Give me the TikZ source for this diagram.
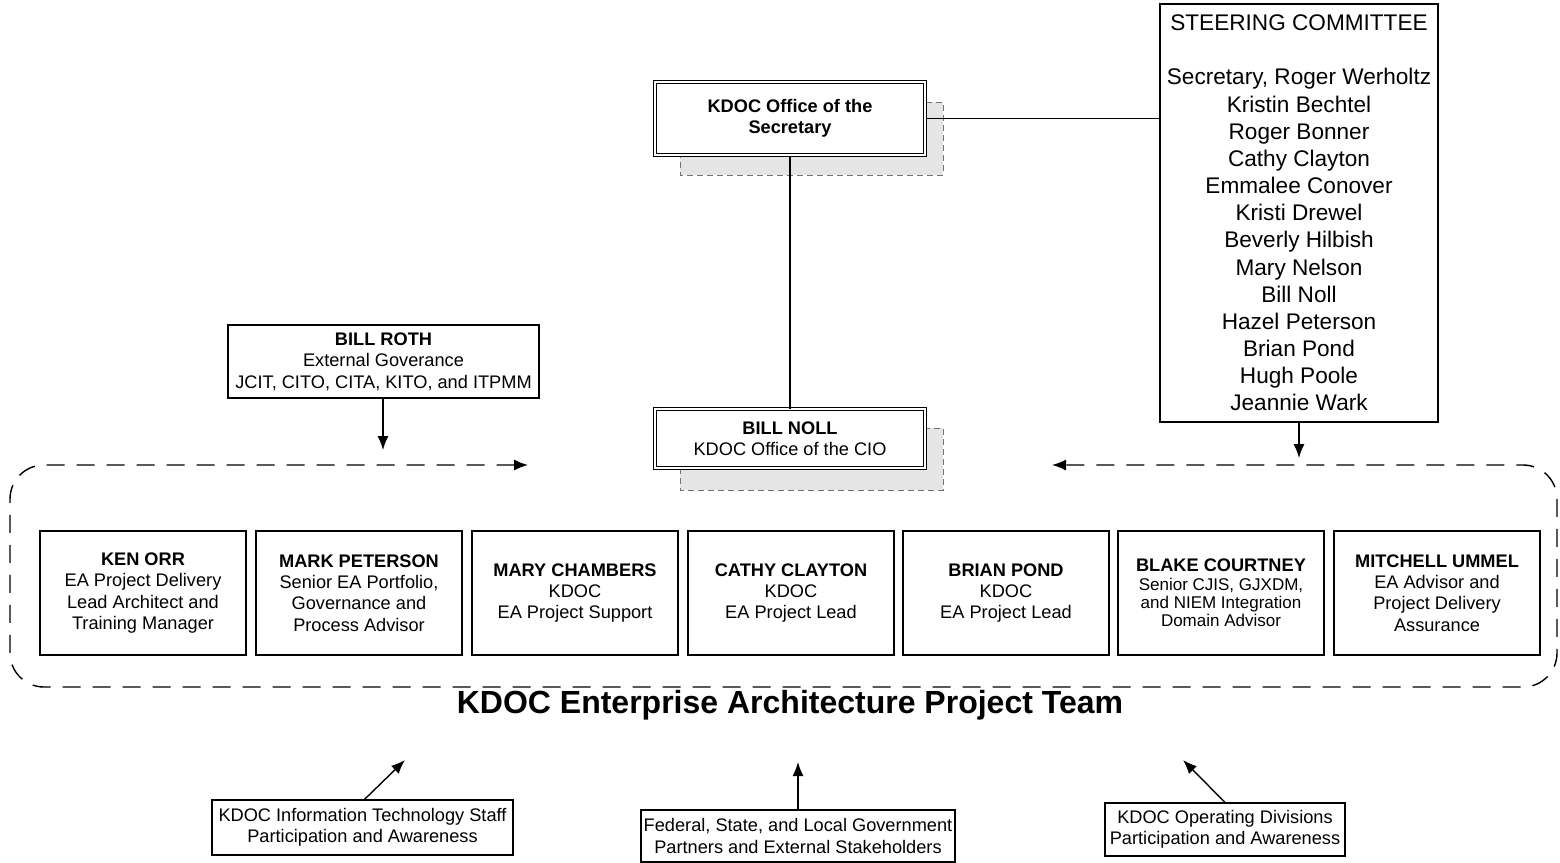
\documentclass[tikz,border=0pt]{standalone}
\usepackage{fontspec}
\setmainfont{Liberation Sans}
\usetikzlibrary{arrows.meta}
\begin{document}
\begin{tikzpicture}[x=0.5pt,y=-0.5pt,
  txt/.style={font=\fontsize{9.1}{10.7}\selectfont, align=center},
  box/.style={draw, fill=white, line width=0.6pt, inner sep=0pt, txt},
  dbox/.style={box, double, double distance=1.2pt, line width=0.5pt},
  teambox/.style={box, minimum width=103pt, minimum height=62pt},
  shadowbox/.style={draw=black!55, densely dashed, fill=black!10, line width=0.4pt},
  arr/.style={-{Latex[length=7pt,width=5.5pt]}, line width=0.7pt},
  link/.style={line width=0.7pt},
  frame/.style={dash pattern=on 9pt off 6pt, line width=0.7pt, rounded corners=17pt}
]
\useasboundingbox (0,0) rectangle (1560,863);

% shadows
\draw[shadowbox] (680,102) rectangle (943,175);
\draw[shadowbox] (680,428) rectangle (943,490);

% top nodes
\node[dbox, minimum width=135pt, minimum height=36.5pt] (sec) at (790,118.5)
  {\textbf{KDOC Office of the}\\\textbf{Secretary}};
\node[dbox, minimum width=135pt, minimum height=29.5pt] (noll) at (790,438.5)
  {\textbf{BILL NOLL}\\KDOC Office of the CIO};
\node[box, minimum width=139pt, minimum height=209pt, font=\fontsize{11.3}{13.58}\selectfont] (steer) at (1299,213)
  {STEERING COMMITTEE\\[13.58pt]Secretary, Roger Werholtz\\Kristin Bechtel\\Roger Bonner\\Cathy Clayton\\Emmalee Conover\\Kristi Drewel\\Beverly Hilbish\\Mary Nelson\\Bill Noll\\Hazel Peterson\\Brian Pond\\Hugh Poole\\Jeannie Wark};
\node[box, minimum width=155.5pt, minimum height=36.5pt] (roth) at (383.5,361.5)
  {\textbf{BILL ROTH}\\External Goverance\\JCIT, CITO, CITA, KITO, and ITPMM};

% team
\node[teambox] (t1) at (143,593) {\textbf{KEN ORR}\\EA Project Delivery\\Lead Architect and\\Training Manager};
\node[teambox] (t2) at (359,593) {\textbf{MARK PETERSON}\\Senior EA Portfolio,\\Governance and\\Process Advisor};
\node[teambox] (t3) at (575,593) {\textbf{MARY CHAMBERS}\\KDOC\\EA Project Support};
\node[teambox] (t4) at (791,593) {\textbf{CATHY CLAYTON}\\KDOC\\EA Project Lead};
\node[teambox] (t5) at (1006,593) {\textbf{BRIAN POND}\\KDOC\\EA Project Lead};
\node[teambox, font=\fontsize{8.5}{9.2}\selectfont] (t6) at (1221,593) {\fontsize{9.1}{10}\selectfont\textbf{BLAKE COURTNEY}\\Senior CJIS, GJXDM,\\and NIEM Integration\\Domain Advisor};
\node[teambox] (t7) at (1437,593) {\textbf{MITCHELL UMMEL}\\EA Advisor and\\Project Delivery\\Assurance};

\node[font=\fontsize{16}{19}\selectfont\bfseries, inner sep=0pt] (title) at (790,705) {KDOC Enterprise Architecture Project Team};

% bottom boxes
\node[box, minimum width=150.5pt, minimum height=27.5pt] (it) at (362.5,827.5)
  {KDOC Information Technology Staff\\Participation and Awareness};
\node[box, minimum width=157pt, minimum height=26pt] (fed) at (798,836)
  {Federal, State, and Local Government\\Partners and External Stakeholders};
\node[box, minimum width=120pt, minimum height=26.5pt] (ops) at (1225,829.5)
  {KDOC Operating Divisions\\Participation and Awareness};

% coordinates
\coordinate (fl) at (528,465);
\coordinate (fr) at (1052,465);
\coordinate (rothend) at (383,450);
\coordinate (steerend) at (1299,458);
\coordinate (itend) at (405,760);
\coordinate (fedend) at (798,762);
\coordinate (opsend) at (1183,760);

% frame
\draw[frame, {Latex[length=7pt,width=5.5pt]}-{Latex[length=7pt,width=5.5pt]}]
  (fl) -- (10,465) -- (10,687) -- (1557,687) -- (1557,465) -- (fr);

% connectors
\draw[link] (sec.south) -- (noll.north);
\draw[link] (sec.east) -- (sec.east -| steer.west);
\draw[arr] (roth.south -| rothend) -- (rothend);
\draw[arr] (steer.south) -- (steerend);
\draw[arr] ([xshift=1pt]it.north) -- (itend);
\draw[arr] (fed.north) -- (fedend);
\draw[arr] (ops.north) -- (opsend);
\end{tikzpicture}
\end{document}
